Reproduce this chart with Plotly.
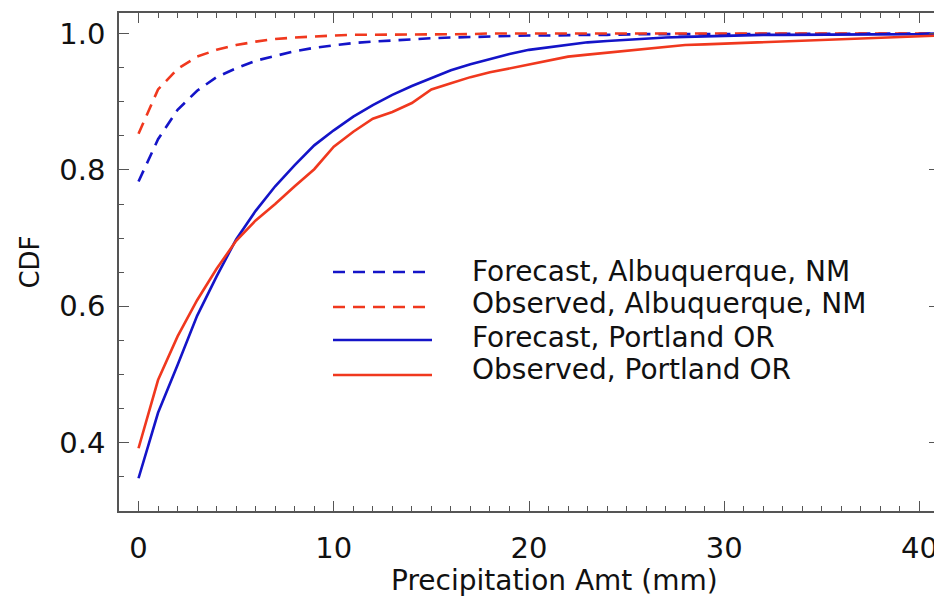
import plotly.graph_objects as go

# ---- data ----
precip_mm = list(range(0, 42))

fcst_abq = [0.783, 0.845, 0.888, 0.916, 0.936, 0.949, 0.960, 0.967, 0.974, 0.979,
            0.983, 0.986, 0.988, 0.990, 0.991, 0.993, 0.994, 0.995, 0.996, 0.996,
            0.997, 0.997, 0.998, 0.998, 0.998, 0.999, 0.999, 0.999, 0.999, 0.999,
            1.000, 1.000, 1.000, 1.000, 1.000, 1.000, 1.000, 1.000, 1.000, 1.000,
            1.000, 1.000]
obs_abq = [0.853, 0.918, 0.948, 0.966, 0.976, 0.983, 0.988, 0.992, 0.994, 0.996,
           0.997, 0.998, 0.998, 0.999, 0.999, 0.999, 0.999, 0.999, 1.000, 1.000,
           1.000, 1.000, 1.000, 1.000, 1.000, 1.000, 1.000, 1.000, 1.000, 1.000,
           1.000, 1.000, 1.000, 1.000, 1.000, 1.000, 1.000, 1.000, 1.000, 1.000,
           1.000, 1.000]
fcst_pdx = [0.348, 0.444, 0.514, 0.586, 0.644, 0.698, 0.740, 0.776, 0.807, 0.836,
            0.858, 0.878, 0.895, 0.910, 0.923, 0.935, 0.946, 0.955, 0.963, 0.970,
            0.976, 0.980, 0.984, 0.987, 0.989, 0.991, 0.993, 0.994, 0.995, 0.996,
            0.997, 0.998, 0.998, 0.998, 0.998, 0.998, 0.999, 0.999, 0.999, 0.999,
            0.999, 1.000]
obs_pdx = [0.392, 0.492, 0.556, 0.609, 0.655, 0.696, 0.726, 0.750, 0.776, 0.801,
           0.834, 0.856, 0.875, 0.885, 0.898, 0.918, 0.927, 0.936, 0.943, 0.949,
           0.954, 0.960, 0.966, 0.969, 0.972, 0.975, 0.978, 0.980, 0.983, 0.984,
           0.985, 0.986, 0.987, 0.989, 0.990, 0.991, 0.992, 0.993, 0.994, 0.995,
           0.996, 0.997]

series_names = ["Forecast, Albuquerque, NM", "Observed, Albuquerque, NM",
                "Forecast, Portland OR", "Observed, Portland OR"]

BLUE = "#1414c8"
RED = "#f0381e"
DASH = "12px,8px"
FONT = "DejaVu Sans"

styles = [(BLUE, DASH), (RED, DASH), (BLUE, "solid"), (RED, "solid")]
values = [fcst_abq, obs_abq, fcst_pdx, obs_pdx]

fig = go.Figure()
for name, vals, (col, dash) in zip(series_names, values, styles):
    fig.add_trace(go.Scatter(x=precip_mm, y=vals, mode="lines", name=name,
                             line=dict(color=col, width=2.6, dash=dash),
                             showlegend=False))

# ---- manual legend (paper coordinates; window pixel positions) ----
L, R, T, B = 119, 939, 13, 511
def px(xp):
    return (xp - L) / (R - L)
def py(yp):
    return (B - yp) / (B - T)

line_rows = [272, 307, 340, 375]
text_rows = [271, 304, 337, 369]
for (col, dash), ly, ty, name in zip(styles, line_rows, text_rows, series_names):
    fig.add_shape(type="line", xref="paper", yref="paper",
                  x0=px(333), x1=px(432), y0=py(ly), y1=py(ly),
                  line=dict(color=col, width=2.6, dash=dash))
    fig.add_annotation(xref="paper", yref="paper", x=px(470), y=py(ty),
                       text=name, showarrow=False, xanchor="left", yanchor="middle",
                       font=dict(family=FONT, size=28, color="#111111"))

# x-axis title (placed where the reference shows it)
fig.add_annotation(xref="paper", yref="paper", x=px(554), y=py(580),
                   text="Precipitation Amt (mm)", showarrow=False,
                   xanchor="center", yanchor="middle",
                   font=dict(family=FONT, size=28, color="#111111"))

axis_common = dict(showline=True, linecolor="#555555", linewidth=1.5, mirror="ticks",
                   ticks="inside", ticklen=10, tickwidth=1.3, tickcolor="#555555",
                   showgrid=False, zeroline=False, automargin=False,
                   tickfont=dict(family=FONT, size=29, color="#111111"))

fig.update_xaxes(range=[-1, 41], dtick=10, tick0=0,
                 minor=dict(dtick=1, ticks="inside", ticklen=5, tickcolor="#555555", tickwidth=1.2),
                 ticklabelstandoff=10,
                 **axis_common)
fig.update_yaxes(range=[0.3, 1.03], dtick=0.2, tick0=0.4, tickformat=".1f",
                 minor=dict(dtick=0.05, ticks="inside", ticklen=5, tickcolor="#555555", tickwidth=1.2),
                 ticklabelstandoff=6,
                 title=dict(text="CDF", standoff=12,
                            font=dict(family=FONT, size=26, color="#111111")),
                 **axis_common)

# page body has an 8px margin, so the figure is sized/offset to land the
# plot frame at the reference's window position
fig.update_layout(width=934, height=590,
                  margin=dict(l=111, r=3, t=5, b=87),
                  paper_bgcolor="white", plot_bgcolor="white")

fig.write_html("out.html")
